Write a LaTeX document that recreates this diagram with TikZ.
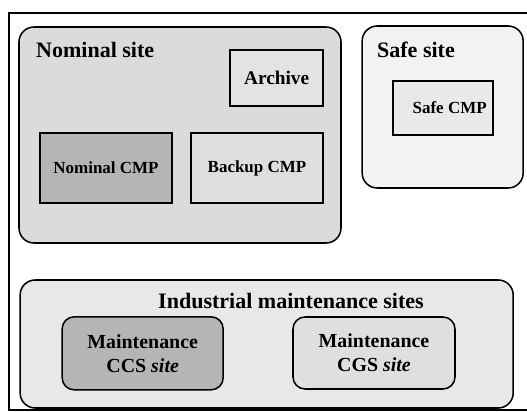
\documentclass[tikz,border=0pt]{standalone}
\usepackage{fontspec}
\setmainfont{Liberation Serif}
\usepackage{tikz}

\begin{document}
\begin{tikzpicture}[
    site/.style={draw, line width=1.3pt, rounded corners=0.45cm, inner sep=0pt},
    subsite/.style={draw, line width=1.3pt, rounded corners=0.36cm, inner sep=0pt, align=center,
        font=\bfseries\fontsize{17}{20.5}\selectfont},
    cmp/.style={draw, line width=1.3pt, inner sep=0pt, font=\bfseries\fontsize{14.5}{17}\selectfont},
    title/.style={font=\bfseries\fontsize{18.8}{22}\selectfont}
]
    \useasboundingbox (0,0) rectangle (15.81,12.36);

    % frame, open on the right
    \coordinate (frNE) at (15.81,11.97);
    \coordinate (frSW) at (0.27,0.06);
    \coordinate (frSE) at (15.81,0.06);
    \draw[line width=1.3pt] (frNE) -| (frSW) -- (frSE);

    % nominal site
    \node[site, fill=gray!28, minimum width=9.66cm, minimum height=6.48cm] (nominal) at (5.40,8.31) {};
    \node[title, anchor=west] (nominaltitle) at (0.96,10.86) {Nominal site};
    \node[cmp, fill=gray!22, minimum width=2.79cm, minimum height=1.68cm,
        font=\bfseries\fontsize{16.5}{20}\selectfont] (archive) at (8.30,10.02) {Archive};
    \node[cmp, fill=gray!58, minimum width=3.96cm, minimum height=2.1cm] (nominalcmp) at (3.18,7.32) {Nominal CMP};
    \node[cmp, fill=gray!25, minimum width=3.96cm, minimum height=2.1cm] (backupcmp) at (7.71,7.32) {Backup CMP};

    % safe site
    \node[site, fill=gray!10, minimum width=4.83cm, minimum height=4.86cm] (safe) at (13.28,9.15) {};
    \node[title, anchor=west] (safetitle) at (11.19,10.86) {Safe site};
    \node[cmp, fill=gray!17, minimum width=3.0cm, minimum height=1.62cm] (safecmp) at (13.29,9.12) {\hspace*{0.4cm}Safe CMP};

    % maintenance
    \node[site, fill=gray!18, minimum width=14.79cm, minimum height=3.84cm] (industrial) at (8.00,2.04) {};
    \node[title] (industrialtitle) at (8.73,3.33) {Industrial maintenance sites};
    \node[subsite, fill=gray!58, minimum width=4.83cm, minimum height=2.19cm] (ccs) at (4.28,1.76) {Maintenance\\CCS \textit{site}};
    \node[subsite, fill=gray!25, minimum width=4.86cm, minimum height=2.16cm] (cgs) at (11.22,1.77) {Maintenance\\CGS \textit{site}};

\end{tikzpicture}
\end{document}
